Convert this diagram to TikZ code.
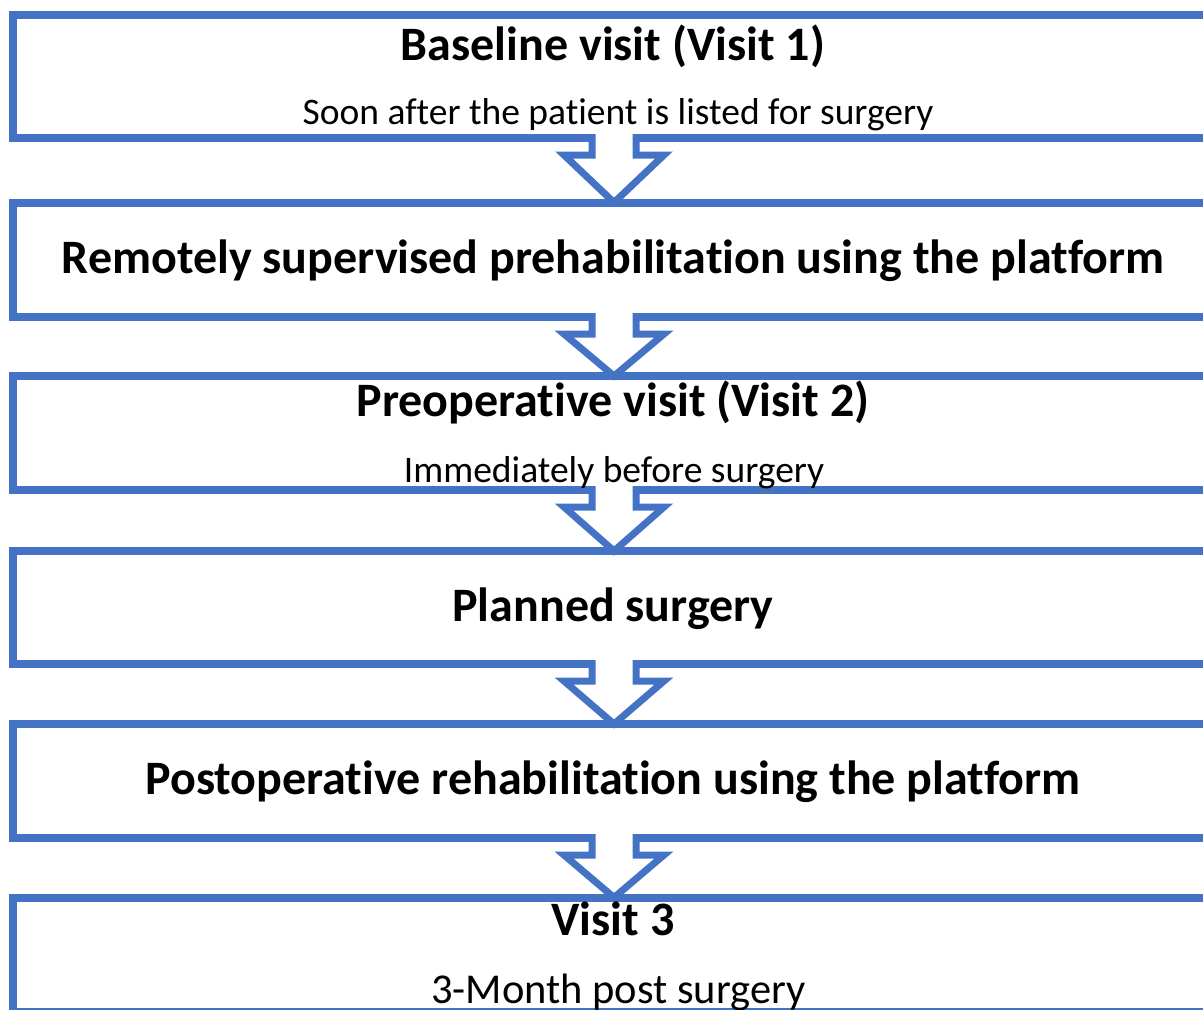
\documentclass[tikz,border=0pt]{standalone}
\usepackage{fontspec}
\setmainfont[Ligatures=NoCommon]{Carlito}
\usetikzlibrary{calc}
\definecolor{flowblue}{HTML}{4472C4}

\tikzset{
  stagebox/.style={draw=flowblue, line width=8pt, fill=white, rectangle,
    outer sep=0pt, inner sep=0pt, minimum width=1203pt, anchor=north west},
  headtext/.style={font=\fontsize{48}{56}\selectfont\bfseries, anchor=base, inner sep=0pt},
  subtext/.style={font=\fontsize{37.5}{44}\selectfont, anchor=base, inner sep=0pt},
  downarrow/.style={draw=flowblue, fill=white, line width=7pt, line join=miter}
}

% block arrow from the bottom edge of one box to the top edge of the next
\newcommand\stagearrow[2]{%
  \path[downarrow]
    ($(#1.south)+(-22pt,4pt)$) -- ($(#1.south)+(-22pt,-17pt)$)
    -- ($(#1.south)+(-50pt,-17pt)$) -- ($(#2.north)+(0pt,0pt)$)
    -- ($(#1.south)+(50pt,-17pt)$) -- ($(#1.south)+(22pt,-17pt)$)
    -- ($(#1.south)+(22pt,4pt)$);
}

\begin{document}
\begin{tikzpicture}[x=1pt,y=-1pt]
  \useasboundingbox (0,0) rectangle (1203,1010);
  \clip (0,0) rectangle (1203,1010);

  % stage boxes (they run past the right margin)
  \node[stagebox, minimum height=123pt] (b1) at (12.5,15) {};
  \node[stagebox, minimum height=114.5pt] (b2) at (12.5,202.5) {};
  \node[stagebox, minimum height=114pt] (b3) at (12.5,376) {};
  \node[stagebox, minimum height=113pt] (b4) at (12.5,551) {};
  \node[stagebox, minimum height=114pt] (b5) at (12.5,724) {};
  \node[stagebox, minimum height=114.5pt] (b6) at (12.5,897.5) {};

  % block arrows between consecutive stages
  \stagearrow{b1}{b2}
  \stagearrow{b2}{b3}
  \stagearrow{b3}{b4}
  \stagearrow{b4}{b5}
  \stagearrow{b5}{b6}

  % labels
  \node[headtext] (t1) at (613,60) {Baseline visit (Visit 1)};
  \node[subtext]  (s1) at (618,124) {Soon after the patient is listed for surgery};
  \node[headtext] (t2) at (613,273) {Remotely supervised prehabilitation using the platform};
  \node[headtext] (t3) at (613,416) {Preoperative visit (Visit 2)};
  \node[subtext]  (s3) at (614,482) {Immediately before surgery};
  \node[headtext] (t4) at (613,621) {Planned surgery};
  \node[headtext] (t5) at (613,794) {Postoperative rehabilitation using the platform};
  \node[headtext] (t6) at (613,935) {Visit 3};
  \node[subtext, font=\fontsize{42.5}{50}\selectfont] (s6) at (618.5,1003) {3-Month post surgery};
\end{tikzpicture}
\end{document}
